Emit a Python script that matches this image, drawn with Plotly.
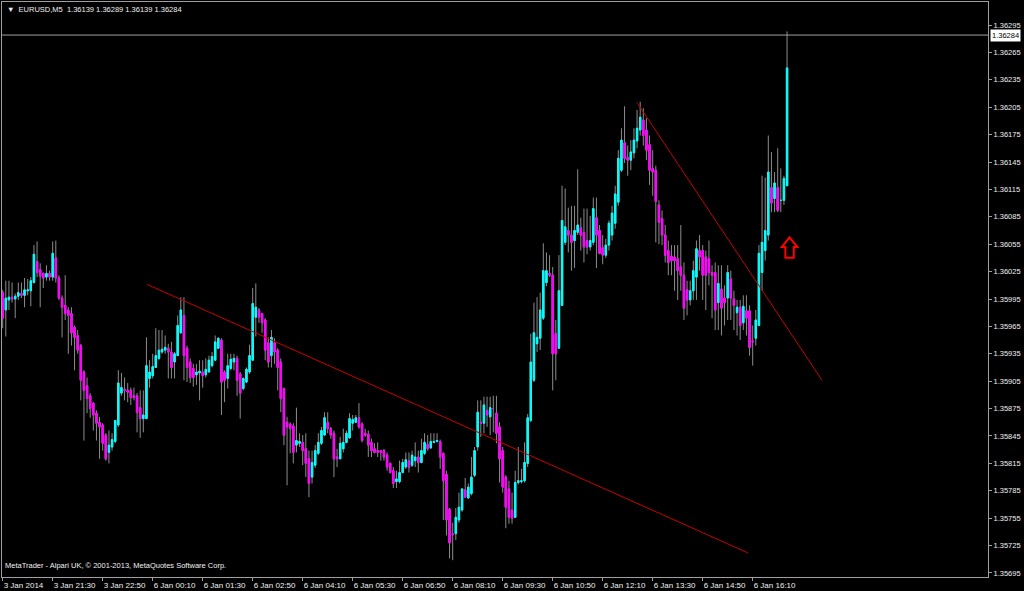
import plotly.graph_objects as go

# ---------------- data (EURUSD M5) ----------------
opens = [
1.36002,1.35983,1.35994,1.35997,1.35995,1.35998,1.36001,1.35999,1.36004,1.36004,
1.36013,1.36036,1.36027,1.36023,1.36019,1.36023,1.36019,1.36040,1.36018,1.35996,
1.35988,1.35983,1.35979,1.35964,1.35955,1.35944,1.35915,1.35900,1.35889,1.35881,
1.35870,1.35860,1.35857,1.35846,1.35827,1.35833,1.35839,1.35857,1.35892,1.35896,
1.35895,1.35895,1.35889,1.35889,1.35876,1.35864,1.35864,1.35908,1.35911,1.35920,
1.35930,1.35937,1.35939,1.35941,1.35937,1.35926,1.35933,1.35958,1.35977,1.35941,
1.35926,1.35919,1.35912,1.35914,1.35915,1.35912,1.35915,1.35922,1.35928,1.35941,
1.35950,1.35915,1.35908,1.35919,1.35926,1.35930,1.35913,1.35897,1.35904,1.35915,
1.35928,1.35975,1.35983,1.35979,1.35972,1.35947,1.35933,1.35947,1.35939,1.35926,
1.35897,1.35860,1.35858,1.35856,1.35835,1.35837,1.35838,1.35831,1.35820,1.35800,
1.35813,1.35826,1.35837,1.35846,1.35860,1.35853,1.35848,1.35822,1.35820,1.35831,
1.35838,1.35843,1.35859,1.35860,1.35865,1.35858,1.35848,1.35847,1.35838,1.35831,
1.35829,1.35829,1.35829,1.35824,1.35815,1.35807,1.35795,1.35795,1.35805,1.35811,
1.35818,1.35813,1.35818,1.35822,1.35816,1.35826,1.35836,1.35832,1.35838,1.35839,
1.35839,1.35826,1.35803,1.35765,1.35738,1.35738,1.35753,1.35764,1.35786,1.35777,
1.35782,1.35802,1.35833,1.35860,1.35859,1.35873,1.35866,1.35875,1.35870,1.35855,
1.35829,1.35800,1.35787,1.35764,1.35756,1.35794,1.35795,1.35796,1.35815,1.35862,
1.35906,1.35946,1.35952,1.35974,1.36013,1.36023,1.36021,1.35957,1.35941,1.35988,
1.36057,1.36070,1.36065,1.36059,1.36068,1.36073,1.36068,1.36059,1.36052,1.36057,
1.36084,1.36070,1.36051,1.36043,1.36054,1.36065,1.36078,1.36101,1.36136,1.36166,
1.36150,1.36147,1.36155,1.36168,1.36180,1.36191,1.36180,1.36164,1.36138,1.36136,
1.36098,1.36083,1.36065,1.36048,1.36042,1.36041,1.36039,1.36030,1.36021,1.36005,
1.35994,1.36004,1.36019,1.36048,1.36048,1.36041,1.36039,1.36024,1.36024,1.35991,
1.36006,1.35996,1.35996,1.36017,1.35995,1.35980,1.35986,1.35969,1.35982,1.35982,
1.35949,1.35952,1.35966,1.36024,1.36048,1.36065,1.36117,1.36105,1.36117,1.36103,
1.36103,1.36119]

highs = [
1.36005,1.36015,1.36015,1.36013,1.36001,1.36013,1.36013,1.36018,1.36017,1.36019,
1.36054,1.36058,1.36034,1.36024,1.36032,1.36026,1.36058,1.36059,1.36021,1.35999,
1.36021,1.35986,1.35986,1.35966,1.35961,1.35946,1.35917,1.35909,1.35892,1.35882,
1.35873,1.35866,1.35859,1.35848,1.35851,1.35848,1.35862,1.35917,1.35914,1.35909,
1.35903,1.35898,1.35898,1.35892,1.35895,1.35895,1.35953,1.35928,1.35935,1.35963,
1.35961,1.35961,1.35955,1.35946,1.35948,1.35937,1.35977,1.35997,1.35997,1.35944,
1.35930,1.35924,1.35924,1.35928,1.35928,1.35930,1.35933,1.35937,1.35955,1.35953,
1.35952,1.35917,1.35935,1.35935,1.35935,1.35933,1.35915,1.35909,1.35920,1.35945,
1.36007,1.36012,1.35985,1.35980,1.35974,1.35953,1.35961,1.35952,1.35941,1.35930,
1.35898,1.35866,1.35860,1.35859,1.35876,1.35848,1.35846,1.35848,1.35829,1.35829,
1.35835,1.35848,1.35855,1.35871,1.35871,1.35855,1.35851,1.35831,1.35844,1.35853,
1.35851,1.35870,1.35868,1.35868,1.35881,1.35860,1.35853,1.35851,1.35842,1.35837,
1.35838,1.35829,1.35831,1.35827,1.35816,1.35811,1.35807,1.35818,1.35820,1.35827,
1.35827,1.35829,1.35838,1.35829,1.35842,1.35848,1.35846,1.35848,1.35848,1.35848,
1.35841,1.35827,1.35807,1.35766,1.35750,1.35766,1.35783,1.35788,1.35799,1.35793,
1.35822,1.35833,1.35884,1.35884,1.35888,1.35888,1.35888,1.35889,1.35889,1.35860,
1.35833,1.35802,1.35796,1.35783,1.35807,1.35833,1.35809,1.35838,1.35869,1.35957,
1.35991,1.35997,1.36002,1.36056,1.36046,1.36043,1.36030,1.35972,1.36043,1.36119,
1.36116,1.36095,1.36097,1.36097,1.36137,1.36084,1.36094,1.36094,1.36086,1.36106,
1.36106,1.36076,1.36065,1.36061,1.36081,1.36097,1.36119,1.36158,1.36182,1.36206,
1.36163,1.36169,1.36182,1.36202,1.36211,1.36204,1.36193,1.36174,1.36158,1.36141,
1.36103,1.36092,1.36076,1.36059,1.36054,1.36054,1.36054,1.36076,1.36035,1.36015,
1.36015,1.36037,1.36059,1.36065,1.36054,1.36048,1.36059,1.36032,1.36035,1.36032,
1.36032,1.36010,1.36032,1.36026,1.36004,1.35994,1.35994,1.35999,1.35999,1.35988,
1.35966,1.35983,1.36054,1.36130,1.36128,1.36174,1.36156,1.36134,1.36160,1.36138,
1.36130,1.36288]

lows = [
1.35963,1.35954,1.35983,1.35991,1.35974,1.35994,1.35996,1.35986,1.35999,1.35987,
1.36012,1.36019,1.35986,1.36007,1.36015,1.36015,1.36015,1.36013,1.35994,1.35953,
1.35972,1.35935,1.35944,1.35917,1.35935,1.35884,1.35840,1.35870,1.35865,1.35851,
1.35840,1.35820,1.35829,1.35818,1.35815,1.35829,1.35837,1.35855,1.35889,1.35884,
1.35882,1.35879,1.35884,1.35849,1.35843,1.35849,1.35864,1.35898,1.35908,1.35920,
1.35928,1.35935,1.35935,1.35908,1.35908,1.35908,1.35933,1.35957,1.35906,1.35904,
1.35903,1.35899,1.35901,1.35884,1.35898,1.35909,1.35915,1.35920,1.35928,1.35941,
1.35868,1.35882,1.35897,1.35917,1.35917,1.35889,1.35864,1.35895,1.35903,1.35913,
1.35928,1.35954,1.35969,1.35958,1.35928,1.35920,1.35920,1.35924,1.35895,1.35871,
1.35835,1.35791,1.35826,1.35815,1.35827,1.35833,1.35813,1.35800,1.35778,1.35793,
1.35810,1.35824,1.35835,1.35846,1.35848,1.35842,1.35800,1.35811,1.35820,1.35827,
1.35837,1.35842,1.35851,1.35859,1.35853,1.35838,1.35844,1.35822,1.35822,1.35826,
1.35822,1.35818,1.35818,1.35807,1.35804,1.35788,1.35788,1.35793,1.35804,1.35809,
1.35805,1.35811,1.35811,1.35805,1.35815,1.35824,1.35829,1.35831,1.35837,1.35838,
1.35809,1.35753,1.35736,1.35711,1.35709,1.35731,1.35750,1.35762,1.35777,1.35777,
1.35780,1.35800,1.35829,1.35844,1.35848,1.35855,1.35846,1.35849,1.35837,1.35794,
1.35783,1.35744,1.35749,1.35749,1.35755,1.35792,1.35793,1.35794,1.35811,1.35860,
1.35904,1.35937,1.35939,1.35972,1.36009,1.36019,1.35895,1.35906,1.35941,1.35988,
1.36054,1.36046,1.36026,1.36029,1.36065,1.36048,1.36035,1.36044,1.36048,1.36054,
1.36029,1.36044,1.36033,1.36040,1.36048,1.36059,1.36072,1.36097,1.36134,1.36144,
1.36130,1.36136,1.36149,1.36160,1.36174,1.36163,1.36147,1.36120,1.36108,1.36057,
1.36055,1.36054,1.36035,1.36021,1.36021,1.36004,1.35994,1.36004,1.35972,1.35977,
1.35988,1.35994,1.35994,1.36026,1.35994,1.35983,1.36010,1.35974,1.35961,1.35961,
1.35955,1.35966,1.35972,1.35972,1.35961,1.35955,1.35950,1.35961,1.35955,1.35933,
1.35922,1.35944,1.35966,1.36004,1.36037,1.36059,1.36090,1.36090,1.36090,1.36090,
1.36098,1.36119]

closes = [
1.35974,1.35996,1.35997,1.35995,1.35998,1.36002,1.35999,1.36005,1.36005,1.36015,
1.36044,1.36024,1.36020,1.36018,1.36023,1.36019,1.36045,1.36018,1.35996,1.35986,
1.35979,1.35977,1.35958,1.35953,1.35939,1.35906,1.35895,1.35886,1.35875,1.35868,
1.35859,1.35855,1.35837,1.35820,1.35835,1.35841,1.35862,1.35903,1.35898,1.35895,
1.35893,1.35887,1.35887,1.35871,1.35864,1.35868,1.35922,1.35915,1.35921,1.35933,
1.35939,1.35940,1.35942,1.35937,1.35920,1.35935,1.35966,1.35983,1.35933,1.35920,
1.35909,1.35909,1.35915,1.35916,1.35911,1.35918,1.35928,1.35932,1.35948,1.35952,
1.35904,1.35906,1.35922,1.35929,1.35930,1.35906,1.35892,1.35908,1.35918,1.35933,
1.35990,1.35986,1.35975,1.35969,1.35939,1.35926,1.35953,1.35937,1.35920,1.35886,
1.35846,1.35855,1.35853,1.35827,1.35840,1.35839,1.35829,1.35815,1.35793,1.35816,
1.35829,1.35838,1.35851,1.35865,1.35853,1.35846,1.35820,1.35820,1.35837,1.35838,
1.35848,1.35864,1.35863,1.35865,1.35855,1.35840,1.35846,1.35835,1.35829,1.35827,
1.35827,1.35827,1.35822,1.35811,1.35805,1.35793,1.35798,1.35805,1.35816,1.35819,
1.35811,1.35824,1.35822,1.35816,1.35829,1.35838,1.35831,1.35839,1.35839,1.35840,
1.35822,1.35796,1.35753,1.35728,1.35737,1.35756,1.35767,1.35787,1.35778,1.35789,
1.35800,1.35829,1.35871,1.35859,1.35879,1.35868,1.35876,1.35875,1.35848,1.35820,
1.35789,1.35767,1.35756,1.35755,1.35794,1.35796,1.35796,1.35816,1.35865,1.35926,
1.35958,1.35953,1.35983,1.36026,1.36026,1.36021,1.35935,1.35935,1.36004,1.36081,
1.36074,1.36065,1.36057,1.36070,1.36076,1.36065,1.36052,1.36052,1.36059,1.36094,
1.36065,1.36045,1.36043,1.36054,1.36078,1.36089,1.36110,1.36149,1.36169,1.36149,
1.36147,1.36156,1.36169,1.36182,1.36194,1.36174,1.36158,1.36136,1.36134,1.36102,
1.36079,1.36065,1.36043,1.36035,1.36037,1.36037,1.36026,1.36021,1.35985,1.35994,
1.36004,1.36026,1.36050,1.36041,1.36021,1.36021,1.36024,1.36021,1.35983,1.36012,
1.35985,1.35991,1.36024,1.35996,1.35988,1.35986,1.35966,1.35987,1.35974,1.35942,
1.35948,1.35972,1.36045,1.36057,1.36070,1.36134,1.36100,1.36122,1.36092,1.36103,
1.36127,1.36248]

bar_index = list(range(len(closes)))

time_label_bars = [0, 16, 32, 48, 64, 80, 96, 112, 128, 144, 160, 176, 192, 208, 224, 240]
time_labels = ["3 Jan 2014", "3 Jan 21:30", "3 Jan 22:50", "6 Jan 00:10", "6 Jan 01:30",
               "6 Jan 02:50", "6 Jan 04:10", "6 Jan 05:30", "6 Jan 06:50", "6 Jan 08:10",
               "6 Jan 09:30", "6 Jan 10:50", "6 Jan 12:10", "6 Jan 13:30", "6 Jan 14:50",
               "6 Jan 16:10"]

price_ticks = [1.35695, 1.35725, 1.35755, 1.35785, 1.35815, 1.35845, 1.35875, 1.35905,
               1.35935, 1.35965, 1.35995, 1.36025, 1.36055, 1.36085, 1.36115, 1.36145,
               1.36175, 1.36205, 1.36235, 1.36265, 1.36295]

last_price = 1.36284
header_text = "EURUSD,M5\u00a0\u00a01.36139 1.36289 1.36139 1.36284"
footer_text = "MetaTrader - Alpari UK, \u00a9 2001-2013, MetaQuotes Software Corp."

# user drawn trend lines: (bar, price) end points
trend_line_1 = [(46.2, 1.36011), (238.5, 1.35717)]
trend_line_2 = [(203.0, 1.36210), (262.2, 1.35906)]
arrow_point = (251.8, 1.360625)

# ---------------- styling ----------------
UP = "#00ffff"
DOWN = "#ff00ff"
WICK = "#8c8c8c"
FRAME = "#a0a0a0"
TXT = "#f0f0f0"
FONT = "Liberation Sans, Arial, sans-serif"

body_hi = [max(o, c) for o, c in zip(opens, closes)]
body_lo = [min(o, c) for o, c in zip(opens, closes)]

fig = go.Figure()
# wicks (gray)
fig.add_trace(go.Candlestick(
    x=bar_index, open=opens, high=highs, low=lows, close=closes,
    increasing=dict(line=dict(color=WICK, width=1), fillcolor=WICK),
    decreasing=dict(line=dict(color=WICK, width=1), fillcolor=WICK),
    hoverinfo="skip", showlegend=False))
# bodies (cyan / magenta)
fig.add_trace(go.Candlestick(
    x=bar_index, open=opens, high=body_hi, low=body_lo, close=closes,
    increasing=dict(line=dict(color=UP, width=1), fillcolor=UP),
    decreasing=dict(line=dict(color=DOWN, width=1), fillcolor=DOWN),
    hoverinfo="skip", showlegend=False))

shapes = []
for (x0, y0), (x1, y1) in (trend_line_1, trend_line_2):
    shapes.append(dict(type="line", xref="x", yref="y", x0=x0, y0=y0, x1=x1, y1=y1,
                       line=dict(color="#c80000", width=1)))
shapes.append(dict(type="line", xref="paper", yref="y", x0=0, x1=1,
                   y0=last_price, y1=last_price, line=dict(color=FRAME, width=1)))
shapes.append(dict(type="path", xref="x", yref="y", xsizemode="pixel", ysizemode="pixel",
                   xanchor=arrow_point[0], yanchor=arrow_point[1],
                   path="M 0,0 L 7.8,-9.7 L 4.2,-9.7 L 4.2,-20.3 L -4.2,-20.3 L -4.2,-9.7 L -7.8,-9.7 Z",
                   line=dict(color="#ff0000", width=2), fillcolor="black"))

annotations = [
    dict(xref="paper", yref="paper", x=0, y=1, xanchor="left", yanchor="top",
         xshift=3, yshift=-1, showarrow=False,
         text="\u25bc\u00a0\u00a0" + header_text, font=dict(family=FONT, size=7.5, color=TXT)),
    dict(xref="paper", yref="paper", x=0, y=0, xanchor="left", yanchor="bottom",
         xshift=1, yshift=5, showarrow=False,
         text=footer_text, font=dict(family=FONT, size=7.5, color=TXT)),
    dict(xref="paper", yref="y", x=1, y=last_price, xanchor="left", yanchor="middle",
         xshift=2, showarrow=False, bgcolor="white", borderpad=1,
         text="%.5f" % last_price, font=dict(family=FONT, size=7.5, color="black")),
]

fig.update_layout(
    width=1024, height=591,
    margin=dict(l=2, r=36, t=2, b=14),
    paper_bgcolor="black", plot_bgcolor="black",
    showlegend=False, hovermode=False,
    boxgap=0.35,
    shapes=shapes, annotations=annotations,
    xaxis=dict(range=[-0.22, 315.3], rangeslider=dict(visible=False), automargin=False,
               tickmode="array", tickvals=time_label_bars, ticktext=time_labels,
               tickangle=0,
               ticks="outside", ticklen=3, tickcolor=FRAME, tickwidth=1,
               ticklabelposition="outside right",
               tickfont=dict(family=FONT, size=8, color=TXT),
               showgrid=False, zeroline=False,
               showline=True, linecolor=FRAME, linewidth=1, mirror=True),
    yaxis=dict(range=[1.356906, 1.363202], side="right", automargin=False,
               tickmode="array", tickvals=price_ticks, tickformat=".5f",
               ticks="outside", ticklen=3, tickcolor=FRAME, tickwidth=1,
               tickfont=dict(family=FONT, size=7.5, color=TXT),
               showgrid=False, zeroline=False,
               showline=True, linecolor=FRAME, linewidth=1, mirror=True),
)

fig.write_html("out.html", config={"displayModeBar": False},
               post_script="document.body.style.margin='0';document.body.style.background='black';")
